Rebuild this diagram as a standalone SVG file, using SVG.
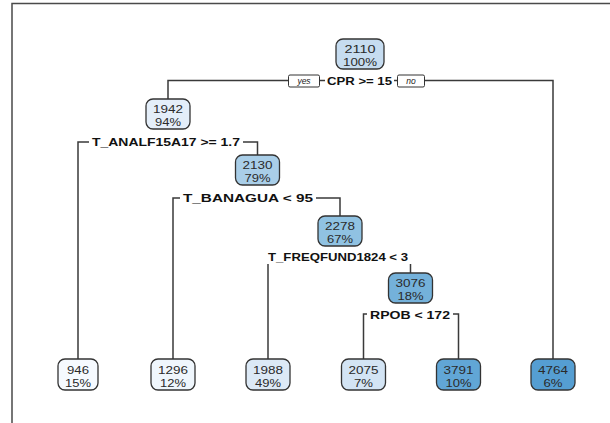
<svg xmlns="http://www.w3.org/2000/svg" width="610" height="423" viewBox="0 0 610 423">
<style>
.frame{fill:none;stroke:#4a4a4a;stroke-width:1.5}
.edge{fill:none;stroke:#3a3a3a;stroke-width:1.5}
.box{stroke:#333;stroke-width:1.3}
.nt{font-family:"Liberation Sans",Arial,sans-serif;font-size:11.5px;fill:#2a2a2a;text-anchor:middle}
.split{font-family:"Liberation Sans",Arial,sans-serif;font-size:11.5px;font-weight:bold;fill:#111}
.yn{fill:#fff;stroke:#333;stroke-width:1}
.ynt{font-family:"Liberation Sans",Arial,sans-serif;font-size:8.5px;font-style:italic;fill:#222;text-anchor:middle}
</style>
<rect width="610" height="423" fill="#fff"/>
<path class="frame" d="M12,423 V3.5 H610"/>
<g id="connectors">
<path class="edge" d="M168,99 V80.5 H288"/>
<path class="edge" d="M320,80.5 H325"/>
<path class="edge" d="M394,80.5 H397"/>
<path class="edge" d="M425,80.5 H553 V359"/>
<path class="edge" d="M78,359 V142 H89"/>
<path class="edge" d="M243,142 H257.5 V155"/>
<path class="edge" d="M173,359 V198 H180"/>
<path class="edge" d="M316,198 H340 V216"/>
<path class="edge" d="M268,359 V264"/>
<path class="edge" d="M410.5,264 V273"/>
<path class="edge" d="M363.5,359 V314 H367"/>
<path class="edge" d="M453,314 H458.5 V359"/>
</g>
<g id="labels">
<rect class="yn" x="288.5" y="75" width="31" height="12" rx="1.5"/>
<text class="ynt" x="304" y="84">yes</text>
<text class="split" x="327" y="85" textLength="65" lengthAdjust="spacingAndGlyphs">CPR &gt;= 15</text>
<rect class="yn" x="397.5" y="75" width="27" height="12" rx="1.5"/>
<text class="ynt" x="411" y="84">no</text>
<text class="split" x="92" y="146" textLength="148" lengthAdjust="spacingAndGlyphs">T_ANALF15A17 &gt;= 1.7</text>
<text class="split" x="183" y="202" textLength="130" lengthAdjust="spacingAndGlyphs">T_BANAGUA &lt; 95</text>
<text class="split" x="268" y="261" textLength="140" lengthAdjust="spacingAndGlyphs">T_FREQFUND1824 &lt; 3</text>
<text class="split" x="370" y="319" textLength="80" lengthAdjust="spacingAndGlyphs">RPOB &lt; 172</text>
</g>
<g id="n2110">
<rect class="box" x="336" y="39" width="48" height="30" rx="7" fill="#c6dcf0"/>
<text class="nt" x="360" y="53" textLength="31" lengthAdjust="spacingAndGlyphs">2110</text>
<text class="nt" x="360" y="65.5" textLength="34" lengthAdjust="spacingAndGlyphs">100%</text>
</g>
<g id="n1942">
<rect class="box" x="146" y="99" width="44" height="30" rx="7" fill="#e4eef9"/>
<text class="nt" x="168" y="113" textLength="30" lengthAdjust="spacingAndGlyphs">1942</text>
<text class="nt" x="168" y="125.5" textLength="26" lengthAdjust="spacingAndGlyphs">94%</text>
</g>
<g id="n2130">
<rect class="box" x="235.5" y="155" width="44" height="30" rx="7" fill="#a9cee8"/>
<text class="nt" x="257.5" y="169" textLength="30" lengthAdjust="spacingAndGlyphs">2130</text>
<text class="nt" x="257.5" y="181.5" textLength="26" lengthAdjust="spacingAndGlyphs">79%</text>
</g>
<g id="n2278">
<rect class="box" x="318" y="216" width="44" height="30" rx="7" fill="#90c2e2"/>
<text class="nt" x="340" y="230" textLength="30" lengthAdjust="spacingAndGlyphs">2278</text>
<text class="nt" x="340" y="242.5" textLength="26" lengthAdjust="spacingAndGlyphs">67%</text>
</g>
<g id="n3076">
<rect class="box" x="388.5" y="273" width="44" height="30" rx="7" fill="#74b1da"/>
<text class="nt" x="410.5" y="287" textLength="30" lengthAdjust="spacingAndGlyphs">3076</text>
<text class="nt" x="410.5" y="299.5" textLength="26" lengthAdjust="spacingAndGlyphs">18%</text>
</g>
<g id="n946">
<rect class="box" x="58" y="359" width="40" height="31" rx="7" fill="#f6faff"/>
<text class="nt" x="78" y="373.5" textLength="22" lengthAdjust="spacingAndGlyphs">946</text>
<text class="nt" x="78" y="386.5" textLength="26" lengthAdjust="spacingAndGlyphs">15%</text>
</g>
<g id="n1296">
<rect class="box" x="151" y="359" width="44" height="31" rx="7" fill="#eff6fc"/>
<text class="nt" x="173" y="373.5" textLength="30" lengthAdjust="spacingAndGlyphs">1296</text>
<text class="nt" x="173" y="386.5" textLength="26" lengthAdjust="spacingAndGlyphs">12%</text>
</g>
<g id="n1988">
<rect class="box" x="246" y="359" width="44" height="31" rx="7" fill="#dce9f6"/>
<text class="nt" x="268" y="373.5" textLength="30" lengthAdjust="spacingAndGlyphs">1988</text>
<text class="nt" x="268" y="386.5" textLength="26" lengthAdjust="spacingAndGlyphs">49%</text>
</g>
<g id="n2075">
<rect class="box" x="341.5" y="359" width="44" height="31" rx="7" fill="#d3e4f4"/>
<text class="nt" x="363.5" y="373.5" textLength="30" lengthAdjust="spacingAndGlyphs">2075</text>
<text class="nt" x="363.5" y="386.5" textLength="19" lengthAdjust="spacingAndGlyphs">7%</text>
</g>
<g id="n3791">
<rect class="box" x="436.5" y="359" width="44" height="31" rx="7" fill="#61a6d6"/>
<text class="nt" x="458.5" y="373.5" textLength="30" lengthAdjust="spacingAndGlyphs">3791</text>
<text class="nt" x="458.5" y="386.5" textLength="26" lengthAdjust="spacingAndGlyphs">10%</text>
</g>
<g id="n4764">
<rect class="box" x="531" y="359" width="44" height="31" rx="7" fill="#559ed2"/>
<text class="nt" x="553" y="373.5" textLength="30" lengthAdjust="spacingAndGlyphs">4764</text>
<text class="nt" x="553" y="386.5" textLength="19" lengthAdjust="spacingAndGlyphs">6%</text>
</g>
</svg>
